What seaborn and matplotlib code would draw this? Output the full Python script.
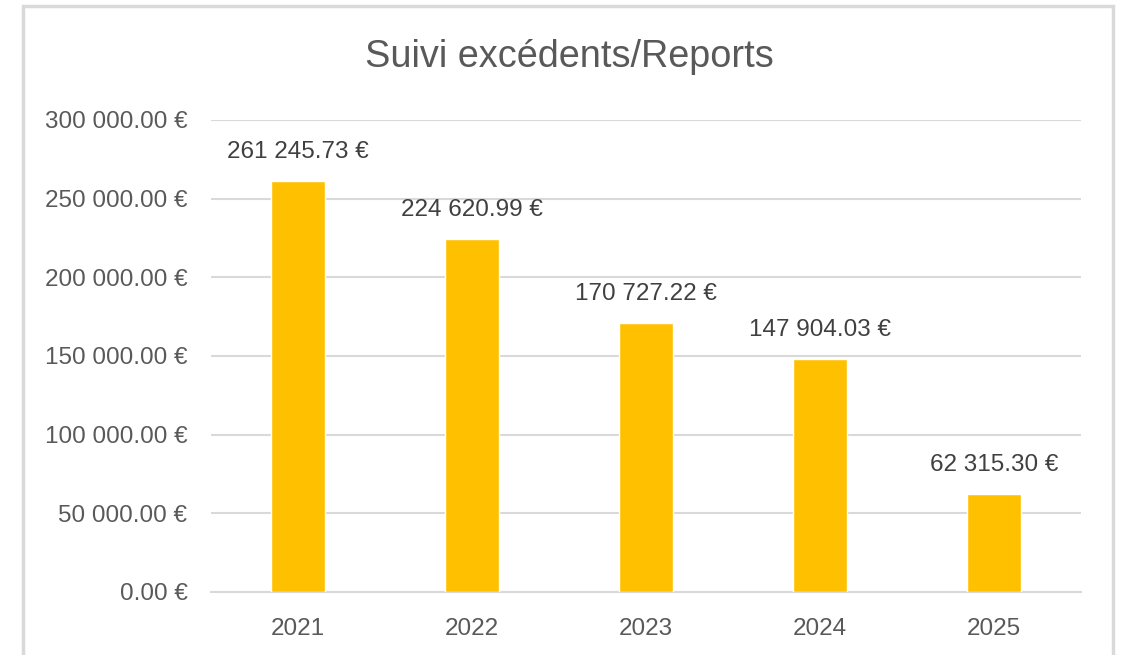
import matplotlib
matplotlib.use("Agg")
import matplotlib.pyplot as plt
import seaborn as sns
import pandas as pd
from matplotlib.patches import Rectangle

years = ["2021", "2022", "2023", "2024", "2025"]
values = [261245.73, 224620.99, 170727.22, 147904.03, 62315.30]
yticks = [0, 50000, 100000, 150000, 200000, 250000, 300000]
title = "Suivi excédents/Reports"

def fmt(v):
    return f"{v:,.2f}".replace(",", " ") + " €"

sns.set_theme(style="white")
plt.rcParams['font.family'] = ['Liberation Sans', 'DejaVu Sans']

W, H = 1122, 655
fig = plt.figure(figsize=(W / 100, H / 100), dpi=100)
fig.patch.set_facecolor("white")
ax = fig.add_axes([211 / W, 63 / H, 870 / W, 472 / H])

df = pd.DataFrame({"year": years, "value": values})
sns.barplot(data=df, x="year", y="value", color="#FFC000", width=0.31,
            saturation=1, ax=ax, zorder=3)

ax.set_ylim(0, 300000)
ax.set_yticks(yticks)
ax.set_yticklabels([fmt(t) for t in yticks])
ax.set_xlim(-0.5, len(years) - 0.5)
ax.yaxis.grid(True, color="#D9D9D9", linewidth=1.5, zorder=0)
ax.set_axisbelow(True)
for s in ["top", "right", "left"]:
    ax.spines[s].set_visible(False)
ax.spines["bottom"].set_color("#D9D9D9")
ax.spines["bottom"].set_linewidth(1.5)
ax.tick_params(axis="both", length=0, labelsize=17.5, colors="#595959")
ax.tick_params(axis="x", pad=19)
ax.tick_params(axis="y", pad=17)
ax.set_xlabel("")
ax.set_ylabel("")

for c in ax.containers:
    ax.bar_label(c, labels=[fmt(v) for v in values], padding=13,
                 fontsize=17.5, color="#404040")

fig.text(569 / W, 1 - 57 / H, title, ha="center", va="center",
         fontsize=27.3, color="#595959")

fig.patches.append(Rectangle((23 / W, -0.05), (1113 - 23) / W, 1.05 - 6 / H,
                             transform=fig.transFigure, fill=False,
                             edgecolor="#D9D9D9", linewidth=2.5, zorder=0))

fig.savefig("out.png", dpi=100)
